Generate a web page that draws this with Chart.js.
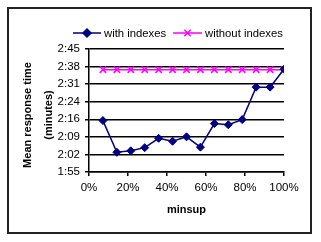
<!DOCTYPE html>
<html><head><meta charset="utf-8">
<script src="https://cdn.jsdelivr.net/npm/chart.js@4/dist/chart.umd.min.js"></script>
<style>html,body{margin:0;padding:0;background:#fff;}canvas{display:block;}</style>
</head><body>
<canvas id="c" width="321" height="242"></canvas>
<script>
const minsupPct = [7.14, 14.29, 21.43, 28.57, 35.71, 42.86, 50, 57.14, 64.29, 71.43, 78.57, 85.71, 92.86, 100];
const withIndexes = [135.9, 123.0, 123.6, 124.9, 128.7, 127.5, 129.3, 125.1, 134.7, 134.2, 136.3, 149.5, 149.5, 156.8];
const withoutIndexes = [156.6, 156.6, 156.6, 156.6, 156.6, 156.6, 156.6, 156.6, 156.6, 156.6, 156.6, 156.6, 156.6, 156.6];
const yTickValues = [115, 122.14, 129.29, 136.43, 143.57, 150.71, 157.86, 165];
const yTickLabels = ['1:55', '2:02', '2:09', '2:16', '2:24', '2:31', '2:38', '2:45'];
const xTickValues = [0, 20, 40, 60, 80, 100];
const seriesNames = ['with indexes', 'without indexes'];
const yTitle = ['Mean response time', '(minutes)'];
const xTitle = 'minsup';

const NAVY = '#000080', PINK = '#ff00ff';
const FONT = 'Arial, "Liberation Sans", sans-serif';

const decor = {
  id: 'decor',
  beforeDraw(chart) {
    const ctx = chart.ctx;
    ctx.save();
    ctx.fillStyle = '#fff';
    ctx.fillRect(0, 0, chart.width, chart.height);
    ctx.restore();
  },
  afterDraw(chart) {
    const ctx = chart.ctx;
    const ca = chart.chartArea;
    ctx.save();
    ctx.strokeStyle = '#222';
    ctx.lineWidth = 2;
    ctx.strokeRect(8, 8, 303, 225);
    ctx.fillStyle = '#000';
    ctx.font = 'bold 11px ' + FONT;
    ctx.textAlign = 'center';
    ctx.textBaseline = 'middle';
    ctx.fillText(xTitle, (ca.left + ca.right) / 2, 210);
    ctx.save();
    ctx.translate(27.5, 115);
    ctx.rotate(-Math.PI / 2);
    ctx.fillText(yTitle[0], 0, 0);
    ctx.restore();
    ctx.save();
    ctx.translate(49, 115);
    ctx.rotate(-Math.PI / 2);
    ctx.fillText(yTitle[1], 0, 0);
    ctx.restore();
    const ly = 33;
    const items = [
      {x0: 73, x1: 101, color: NAVY, style: 'rectRot', r: 4, name: seriesNames[0], tx: 104},
      {x0: 173, x1: 202, color: PINK, style: 'crossRot', r: 4.5, name: seriesNames[1], tx: 205}
    ];
    ctx.font = '11.3px ' + FONT;
    ctx.textAlign = 'left';
    items.forEach(it => {
      ctx.strokeStyle = it.color;
      ctx.fillStyle = it.color;
      ctx.lineWidth = 1.5;
      ctx.beginPath();
      ctx.moveTo(it.x0, ly);
      ctx.lineTo(it.x1, ly);
      ctx.stroke();
      Chart.helpers.drawPoint(ctx, {pointStyle: it.style, radius: it.r, borderWidth: 1.5, rotation: 0}, (it.x0 + it.x1) / 2, ly);
      ctx.fillStyle = '#000';
      ctx.fillText(it.name, it.tx, ly + 0.5);
    });
    ctx.restore();
  }
};

new Chart(document.getElementById('c'), {
  type: 'line',
  data: {
    datasets: [
      {
        label: seriesNames[1],
        data: minsupPct.map((x, i) => ({x, y: withoutIndexes[i]})),
        borderColor: PINK, backgroundColor: PINK,
        borderWidth: 1.5, pointStyle: 'crossRot', pointRadius: 4.5, pointBorderWidth: 1.5,
        tension: 0, order: 2
      },
      {
        label: seriesNames[0],
        data: minsupPct.map((x, i) => ({x, y: withIndexes[i]})),
        borderColor: NAVY, backgroundColor: NAVY,
        borderWidth: 1.5, pointStyle: 'rectRot', pointRadius: 4, pointBorderWidth: 1,
        tension: 0, order: 1
      }
    ]
  },
  options: {
    responsive: false,
    animation: false,
    devicePixelRatio: 1,
    layout: {padding: {left: 0, top: 49, right: 37, bottom: 0}},
    plugins: {legend: {display: false}, tooltip: {enabled: false}},
    scales: {
      x: {
        type: 'linear', min: 0, max: 100,
        afterFit(s) { s.height = 70; },
        afterBuildTicks(s) { s.ticks = xTickValues.map(v => ({value: v})); },
        ticks: {
          callback: v => v + '%',
          color: '#000', font: {family: FONT, size: 11.5}, padding: 5, maxRotation: 0, autoSkip: false
        },
        grid: {display: true, drawOnChartArea: false, drawTicks: true, tickLength: 4, color: '#000', lineWidth: 1.5},
        border: {display: true, color: '#000', width: 1.5}
      },
      y: {
        type: 'linear', min: 115, max: 165,
        afterFit(s) { s.width = 89; },
        afterBuildTicks(s) { s.ticks = yTickValues.map(v => ({value: v})); },
        ticks: {
          callback: (v, i) => yTickLabels[i],
          color: '#000', font: {family: FONT, size: 11.5}, padding: 5, autoSkip: false
        },
        grid: {display: true, drawOnChartArea: true, drawTicks: true, tickLength: 4, color: '#000', lineWidth: 1.5},
        border: {display: true, color: '#000', width: 1.5}
      }
    }
  },
  plugins: [decor]
});
</script>
</body></html>
